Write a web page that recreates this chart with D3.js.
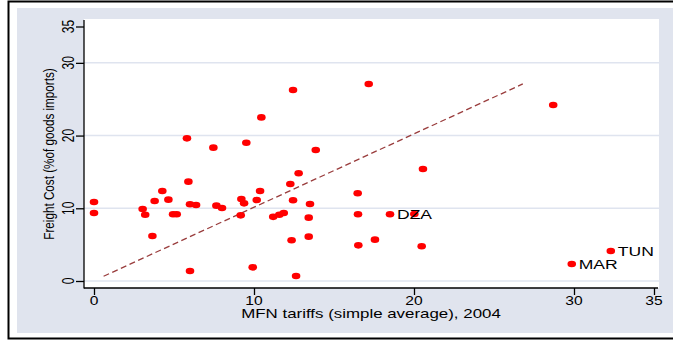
<!DOCTYPE html>
<html>
<head>
<meta charset="utf-8">
<script src="https://cdn.jsdelivr.net/npm/d3@7"></script>
<style>
body { margin: 0; background: #fff; }
text { font-family: "Liberation Sans", Arial, sans-serif; fill: #000; }
</style>
</head>
<body>
<script>
// values
var tariffs = [0, 0, 3.04, 3.2, 3.65, 3.79, 4.27, 4.65, 4.94, 5.17,
    5.81, 5.9, 6.0, 6.0, 6.38, 7.46, 7.65, 8.0, 9.21, 9.38,
    9.17, 9.52, 9.92, 10.17, 10.38, 10.46, 11.2, 11.58, 11.86, 12.44,
    17.17, 13.86, 20.56, 12.79, 12.27, 16.48, 12.44, 13.5, 13.42, 16.5,
    18.5, 20.02, 12.35, 13.42, 16.52, 17.56, 20.48, 12.63, 28.7, 32.3, 29.86];
var freight = [10.87, 9.35, 9.9, 9.12, 6.19, 11.0, 12.38, 11.19, 9.17, 9.17,
    19.62, 13.66, 10.55, 1.37, 10.45, 18.34, 10.36, 10.04, 11.28, 10.68,
    9.03, 19.02, 1.88, 11.14, 12.38, 22.5, 8.82, 9.12, 9.35, 26.27,
    27.1, 18.02, 15.4, 14.81, 13.34, 12.06, 11.1, 10.59, 8.71, 9.17,
    9.17, 9.21, 5.6, 6.1, 4.9, 5.69, 4.77, 0.69, 24.2, 4.13, 2.34];
var countryLabels = ['', '', '', '', '', '', '', '', '', '',
    '', '', '', '', '', '', '', '', '', '',
    '', '', '', '', '', '', '', '', '', '',
    '', '', '', '', '', '', '', '', '', '',
    'DZA', '', '', '', '', '', '', '', '', 'TUN', 'MAR'];
var xTicks = [0, 10, 20, 30, 35];
var yTicks = [0, 10, 20, 30, 35];
var yGrid = [0, 10, 20, 30];
var fitX = [0.6, 26.8];
var fitY = [0.65, 27.1];
var xTitle = 'MFN tariffs (simple average), 2004';
var yTitle = 'Freight Cost (%of goods imports)';

(function() {
    var width = 673, height = 341;
    var sx = 1.3; // the picture is stretched sideways

    var svg = d3.select('body')
        .append('svg')
        .attr('width', width)
        .attr('height', height);

    // outer frame
    svg.append('path')
        .attr('d', 'M' + 673 + ',1.5 H8.5 V338.5 H673')
        .style('fill', 'none')
        .style('stroke', '#000')
        .style('stroke-width', 2);

    svg.append('rect')
        .attr('x', 17).attr('y', 8)
        .attr('width', 656).attr('height', 325)
        .style('fill', '#e0e4ee');

    svg.append('rect')
        .attr('x', 84).attr('y', 19)
        .attr('width', 575).attr('height', 269)
        .style('fill', '#fff');

    var x = d3.scaleLinear().domain([0, 35]).range([94, 654]);
    var y = d3.scaleLinear().domain([0, 35]).range([281, 26.5]);

    svg.append('g')
        .selectAll('line')
        .data(yGrid)
        .enter().append('line')
        .attr('x1', 84).attr('x2', 659)
        .attr('y1', function(d) { return y(d); })
        .attr('y2', function(d) { return y(d); })
        .style('stroke', '#dfe4ef')
        .style('stroke-width', 1.5);

    // axes
    var yAxis = svg.append('g')
        .attr('transform', 'translate(84,0)')
        .call(d3.axisLeft(y).tickValues(yTicks).tickSize(8).tickFormat(''));
    var xAxis = svg.append('g')
        .attr('transform', 'translate(0,288)')
        .call(d3.axisBottom(x).tickValues(xTicks).tickSize(7).tickFormat(''));
    yAxis.select('.domain').attr('d', 'M0,20V288.5');
    xAxis.select('.domain').attr('d', 'M84,0H658');
    svg.selectAll('.tick line, .domain').style('stroke', '#000').style('stroke-width', 1.3);

    svg.append('g')
        .selectAll('text')
        .data(yTicks)
        .enter().append('text')
        .attr('transform', function(d) { return 'translate(74,' + y(d) + ') scale(' + sx + ',1) rotate(-90)'; })
        .attr('text-anchor', 'middle')
        .style('font-size', '12px')
        .text(function(d) { return d; });

    svg.append('g')
        .selectAll('text')
        .data(xTicks)
        .enter().append('text')
        .attr('transform', function(d) { return 'translate(' + x(d) + ',305) scale(' + sx + ',1)'; })
        .attr('text-anchor', 'middle')
        .style('font-size', '12px')
        .text(function(d) { return d; });

    svg.append('text')
        .attr('transform', 'translate(371,318) scale(' + sx + ',1)')
        .attr('text-anchor', 'middle')
        .style('font-size', '13px')
        .text(xTitle);

    svg.append('text')
        .attr('transform', 'translate(54,154) scale(' + sx + ',1) rotate(-90)')
        .attr('text-anchor', 'middle')
        .style('font-size', '11.7px')
        .text(yTitle);

    // fitted line
    var line = d3.line()
        .x(function(d) { return x(d[0]); })
        .y(function(d) { return y(d[1]); });

    svg.append('path')
        .datum(d3.zip(fitX, fitY))
        .attr('d', line)
        .style('fill', 'none')
        .style('stroke', '#993c3c')
        .style('stroke-width', 1.3)
        .style('stroke-dasharray', '6,3.5');

    var pts = d3.range(tariffs.length).map(function(i) {
        return { x: tariffs[i], y: freight[i], name: countryLabels[i] };
    });

    svg.append('g')
        .selectAll('ellipse')
        .data(pts)
        .enter().append('ellipse')
        .attr('cx', function(d) { return x(d.x); })
        .attr('cy', function(d) { return y(d.y); })
        .attr('rx', 3.3 * sx)
        .attr('ry', 3.3)
        .style('fill', '#ff0000');

    svg.append('g')
        .selectAll('text')
        .data(pts.filter(function(d) { return d.name; }))
        .enter().append('text')
        .attr('transform', function(d) { return 'translate(' + (x(d.x) + 7) + ',' + (y(d.y) + 4.7) + ') scale(' + sx + ',1)'; })
        .style('font-size', '13.5px')
        .text(function(d) { return d.name; });
})();
</script>
</body>
</html>
